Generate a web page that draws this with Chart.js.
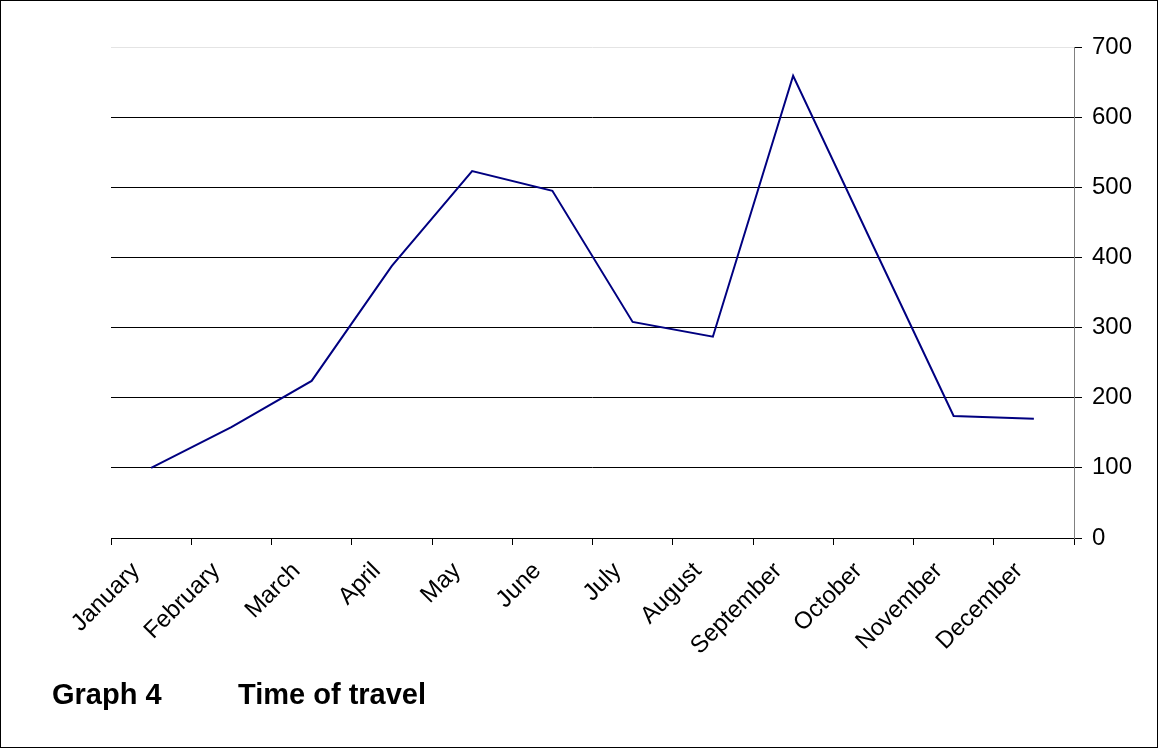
<!DOCTYPE html>
<html>
<head>
<meta charset="utf-8">
<script src="https://cdn.jsdelivr.net/npm/chart.js@4.4.1/dist/chart.umd.min.js"></script>
<style>
  html, body { margin: 0; padding: 0; background: #fff; }
  #frame {
    position: relative;
    width: 1158px;
    height: 748px;
    box-sizing: border-box;
    border: 1px solid #000;
    overflow: hidden;
  }
  #chartBox { position: absolute; left: 0; top: 0; width: 1156px; height: 746px; }
  .caption {
    position: absolute;
    top: 679px;
    font-family: "Liberation Sans", Arial, sans-serif;
    font-weight: bold;
    font-size: 29px;
    line-height: 29px;
    color: #000;
    white-space: nowrap;
  }
</style>
</head>
<body>
<div id="frame">
  <div id="chartBox"><canvas id="travelChart"></canvas></div>
  <div class="caption" style="left:51px">Graph 4</div>
  <div class="caption" style="left:237px">Time of travel</div>
</div>
<script>
// ─── Data ─────────────────────────────────────────────────────────────────────

const months = ['January', 'February', 'March', 'April', 'May', 'June',
  'July', 'August', 'September', 'October', 'November', 'December'];
const travellers = [100, 158, 224, 388, 523, 495, 308, 287, 659, 416, 174, 170];
const yTicks = [0, 100, 200, 300, 400, 500, 600, 700];

// ─── Chart ────────────────────────────────────────────────────────────────────

const FONT = { family: '"Liberation Sans", Arial, sans-serif', size: 24 };

function initChart() {
  const ctx = document.getElementById('travelChart').getContext('2d');
  return new Chart(ctx, {
    type: 'line',
    data: {
      labels: months,
      datasets: [{
        data: travellers,
        borderColor: '#000080',
        borderWidth: 2,
        pointRadius: 0,
        tension: 0,
        fill: false,
      }],
    },
    options: {
      responsive: true,
      maintainAspectRatio: false,
      animation: false,
      layout: { padding: { top: 46, left: 110, right: 0, bottom: 0 } },
      plugins: { legend: { display: false }, tooltip: { enabled: false } },
      scales: {
        x: {
          offset: true,
          afterFit: (scale) => { scale.height = 746 - 537; },
          grid: {
            offset: true,
            drawOnChartArea: false,
            drawTicks: true,
            tickLength: 7,
            tickColor: '#000',
          },
          border: { color: '#000', width: 1 },
          ticks: {
            color: '#000',
            font: FONT,
            minRotation: 45,
            maxRotation: 45,
            autoSkip: false,
            padding: 12,
            labelOffset: -15,
          },
        },
        y: {
          position: 'right',
          min: 0,
          max: 700,
          afterBuildTicks: (scale) => { scale.ticks = yTicks.map((v) => ({ value: v })); },
          afterFit: (scale) => { scale.width = 1156 - 1073; },
          grid: {
            color: (c) => (c.tick && c.tick.value === 700 ? '#e4e4e4' : '#000'),
            tickColor: '#000',
            tickLength: 8,
            lineWidth: 1,
          },
          border: { color: '#808080', width: 1 },
          ticks: { color: '#000', font: FONT, padding: 10 },
        },
      },
    },
  });
}

document.addEventListener('DOMContentLoaded', initChart);
</script>
</body>
</html>
